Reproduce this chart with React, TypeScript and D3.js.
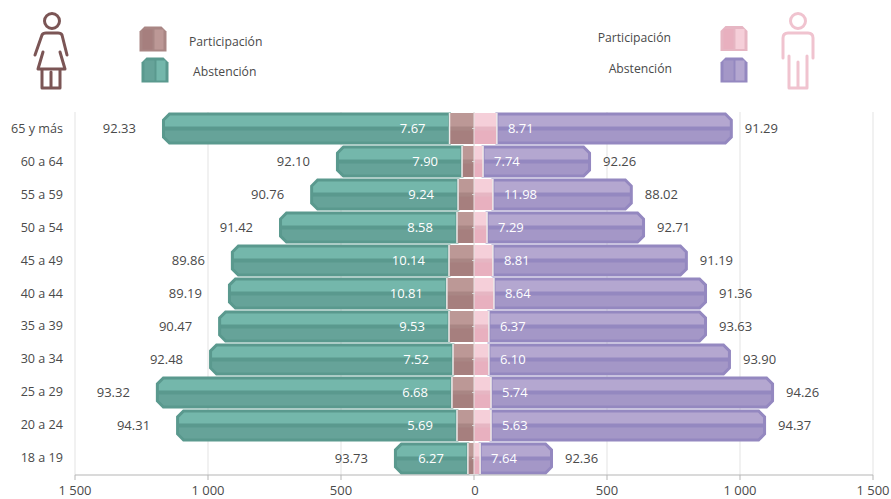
import React from "react";
import * as d3 from "d3";

const ageGroups = ["65 y más","60 a 64","55 a 59","50 a 54","45 a 49","40 a 44","35 a 39","30 a 34","25 a 29","20 a 24","18 a 19"];
const womenPart = [92,45,60,64,94,102,94,79,83,64,23];
const womenAbst = [1081,474,556,669,820,823,868,917,1113,1056,278];
const menPart = [86,34,71,49,71,75,56,56,64,64,23];
const menAbst = [887,406,526,594,733,801,820,910,1064,1034,274];
const womenPartPct = ["7.67","7.90","9.24","8.58","10.14","10.81","9.53","7.52","6.68","5.69","6.27"];
const womenAbstPct = ["92.33","92.10","90.76","91.42","89.86","89.19","90.47","92.48","93.32","94.31","93.73"];
const menPartPct = ["8.71","7.74","11.98","7.29","8.81","8.64","6.37","6.10","5.74","5.63","7.64"];
const menAbstPct = ["91.29","92.26","88.02","92.71","91.19","91.36","93.63","93.90","94.26","94.37","92.36"];
const tickValues = [-1500,-1000,-500,0,500,1000,1500];
const legendLabels = ["Participación","Abstención"];

const FONT = "'Open Sans', sans-serif";
const TEXT = "#4a4a4a";
const x = d3.scaleLinear().domain([-1500,1500]).range([75,873]);
const y = d3.scaleBand<string>().domain(ageGroups).range([112.5,474.5]).paddingInner(0.03).paddingOuter(0);

type Pal = { light: string; dark: string; edge: string };
const teal: Pal = { light:"#74b7ab", dark:"#66a399", edge:"#5a998e" };
const purple: Pal = { light:"#b4a7d0", dark:"#a497c7", edge:"#9488c0" };
const brown: Pal = { light:"#bc9896", dark:"#a67f7e", edge:"#a98684" };
const pink: Pal = { light:"#f5cfd9", dark:"#e8b0bf", edge:"#e6b6c3" };

function chamfered(x0:number,x1:number,y0:number,y1:number,c:number){
  const s = x1>x0?1:-1;
  const p = d3.path();
  p.moveTo(x0,y0); p.lineTo(x1-s*c,y0); p.lineTo(x1,y0+c); p.lineTo(x1,y1-c); p.lineTo(x1-s*c,y1); p.lineTo(x0,y1); p.closePath();
  return p.toString();
}

function Seg({x0,x1,y0,y1,pal,id}:{x0:number;x1:number;y0:number;y1:number;pal:Pal;id:string}){
  const s = x1>x0?1:-1;
  const xe = x1 - s*1.5;
  const left = Math.min(x0,xe), w = Math.abs(xe-x0), mid=(y0+y1)/2;
  const d = chamfered(x0,xe,y0,y1,6);
  return (
    <g>
      <clipPath id={id}><path d={d}/></clipPath>
      <g clipPath={`url(#${id})`}>
        <rect x={left} y={y0} width={w} height={mid-y0} fill={pal.light}/>
        <rect x={left} y={mid} width={w} height={y1-mid} fill={pal.dark}/>
        <rect x={left} y={mid-2} width={w} height={4} fill={pal.edge}/>
      </g>
      <path d={d} fill="none" stroke={pal.edge} strokeWidth={3} strokeLinejoin="miter"/>
    </g>
  );
}

function Center({x0,x1,y0,y1,pal}:{x0:number;x1:number;y0:number;y1:number;pal:Pal}){
  const left = Math.min(x0,x1), w = Math.abs(x1-x0), mid=(y0+y1)/2;
  return (
    <g>
      <rect x={left} y={y0} width={w} height={mid-y0} fill={pal.light}/>
      <rect x={left} y={mid} width={w} height={y1-mid} fill={pal.dark}/>
      <rect x={left} y={mid-2} width={w} height={4} fill={pal.edge}/>
      <line x1={x1} x2={x1} y1={y0} y2={y1} stroke="#eeeaea" strokeWidth={1.5}/>
    </g>
  );
}

function LegendIcon({cx,cy,pal}:{cx:number;cy:number;pal:Pal}){
  const w=27,h=25,l=cx-w/2,t=cy-h/2,c=5;
  const p=d3.path();
  p.moveTo(l,t+h);p.lineTo(l,t+c);p.lineTo(l+c,t);p.lineTo(l+w-c,t);p.lineTo(l+w,t+c);p.lineTo(l+w,t+h);p.closePath();
  return (<g>
    <path d={p.toString()} fill={pal.edge}/>
    <rect x={l+3} y={t+3} width={10} height={h-5} fill={pal.dark}/>
    <rect x={l+15} y={t+3} width={9} height={h-5} fill={pal.light}/>
  </g>);
}

export default function App(){
  const t = (v:number)=> v===0? "0" : d3.format(",")(Math.abs(v)).replace(",", " ");
  return (
    <svg width={891} height={499} style={{position:"absolute",left:0,top:0,background:"#fff"}} fontFamily={FONT}>
      {tickValues.map(v=>(
        <line key={v} x1={x(v)} x2={x(v)} y1={112} y2={475} stroke="#e3e3e3" strokeWidth={1}/>
      ))}
      {ageGroups.map((g,i)=>{
        const top=y(g)!, y0=top+1.5, y1=top+y.bandwidth()-1.5, cy=(y0+y1)/2;
        const wp=x(-womenPart[i]), wa=x(-womenPart[i]-womenAbst[i]);
        const mp=x(menPart[i]), ma=x(menPart[i]+menAbst[i]);
        const ax=x(0);
        return (
          <g key={g}>
            <Seg id={`a${i}`} x0={wp} x1={wa} y0={y0} y1={y1} pal={teal}/>
            <Seg id={`b${i}`} x0={mp} x1={ma} y0={y0} y1={y1} pal={purple}/>
            <Center x0={ax} x1={wp} y0={top+0.5} y1={top+y.bandwidth()-0.5} pal={brown}/>
            <Center x0={ax} x1={mp} y0={top+0.5} y1={top+y.bandwidth()-0.5} pal={pink}/>
            <line x1={472} x2={475} y1={cy} y2={cy} stroke="#d8d4d4"/>
            <text x={63} y={cy+4} textAnchor="end" fontSize={12.6} fill={TEXT}>{g}</text>
            <text x={wa-26} y={cy+4.5} textAnchor="end" fontSize={13} fill={TEXT}>{womenAbstPct[i]}</text>
            <text x={ma+12} y={cy+4.5} fontSize={13} fill={TEXT}>{menAbstPct[i]}</text>
            <text x={wp-24} y={cy+4.5} textAnchor="end" fontSize={13} fill="#fff">{womenPartPct[i]}</text>
            <text x={mp+11} y={cy+4.5} fontSize={13} fill="#fff">{menPartPct[i]}</text>
          </g>
        );
      })}
      <line x1={75} x2={873} y1={475} y2={475} stroke="#b5b5b5" strokeWidth={1.2}/>
      {tickValues.map(v=>(
        <g key={v}>
          <line x1={x(v)} x2={x(v)} y1={475} y2={480} stroke="#b5b5b5"/>
          <text x={x(v)+(v===0?1:0)} y={495} textAnchor="middle" fontSize={13} fill={TEXT}>{t(v)}</text>
        </g>
      ))}
      <line x1={474} x2={474} y1={112} y2={475} stroke="#e6e2e2" strokeWidth={1}/>
      <LegendIcon cx={153} cy={39} pal={brown}/>
      <LegendIcon cx={155} cy={70} pal={teal}/>
      <LegendIcon cx={734} cy={38.5} pal={pink}/>
      <LegendIcon cx={734} cy={70} pal={purple}/>
      <text x={189} y={46} fontSize={12.2} fill={TEXT}>{legendLabels[0]}</text>
      <text x={193} y={76} fontSize={12.2} fill={TEXT}>{legendLabels[1]}</text>
      <text x={671} y={42} textAnchor="end" fontSize={12.2} fill={TEXT}>{legendLabels[0]}</text>
      <text x={672} y={73} textAnchor="end" fontSize={12.2} fill={TEXT}>{legendLabels[1]}</text>
      <g fill="none" stroke="#7b5555" strokeWidth={3} strokeLinejoin="round" strokeLinecap="round">
        <circle cx={52} cy={21} r={7.5}/>
        <path d="M35 55 L42 35 Q43 33 46 33 H58 Q61 33 62 35 L67 55"/>
        <path d="M43 52 L38 69 H65 L60 52"/>
        <path d="M42 70 V88 H60 V70 M51 72 V87"/>
      </g>
      <g fill="none" stroke="#f0c3cf" strokeWidth={3} strokeLinejoin="round" strokeLinecap="round">
        <circle cx={798} cy={21} r={7.5}/>
        <path d="M783 58 V38 Q783 33 788 33 H808 Q813 33 813 38 V58"/>
        <path d="M789 56 V88 H807 V56 M798 62 V87"/>
      </g>
    </svg>
  );
}
